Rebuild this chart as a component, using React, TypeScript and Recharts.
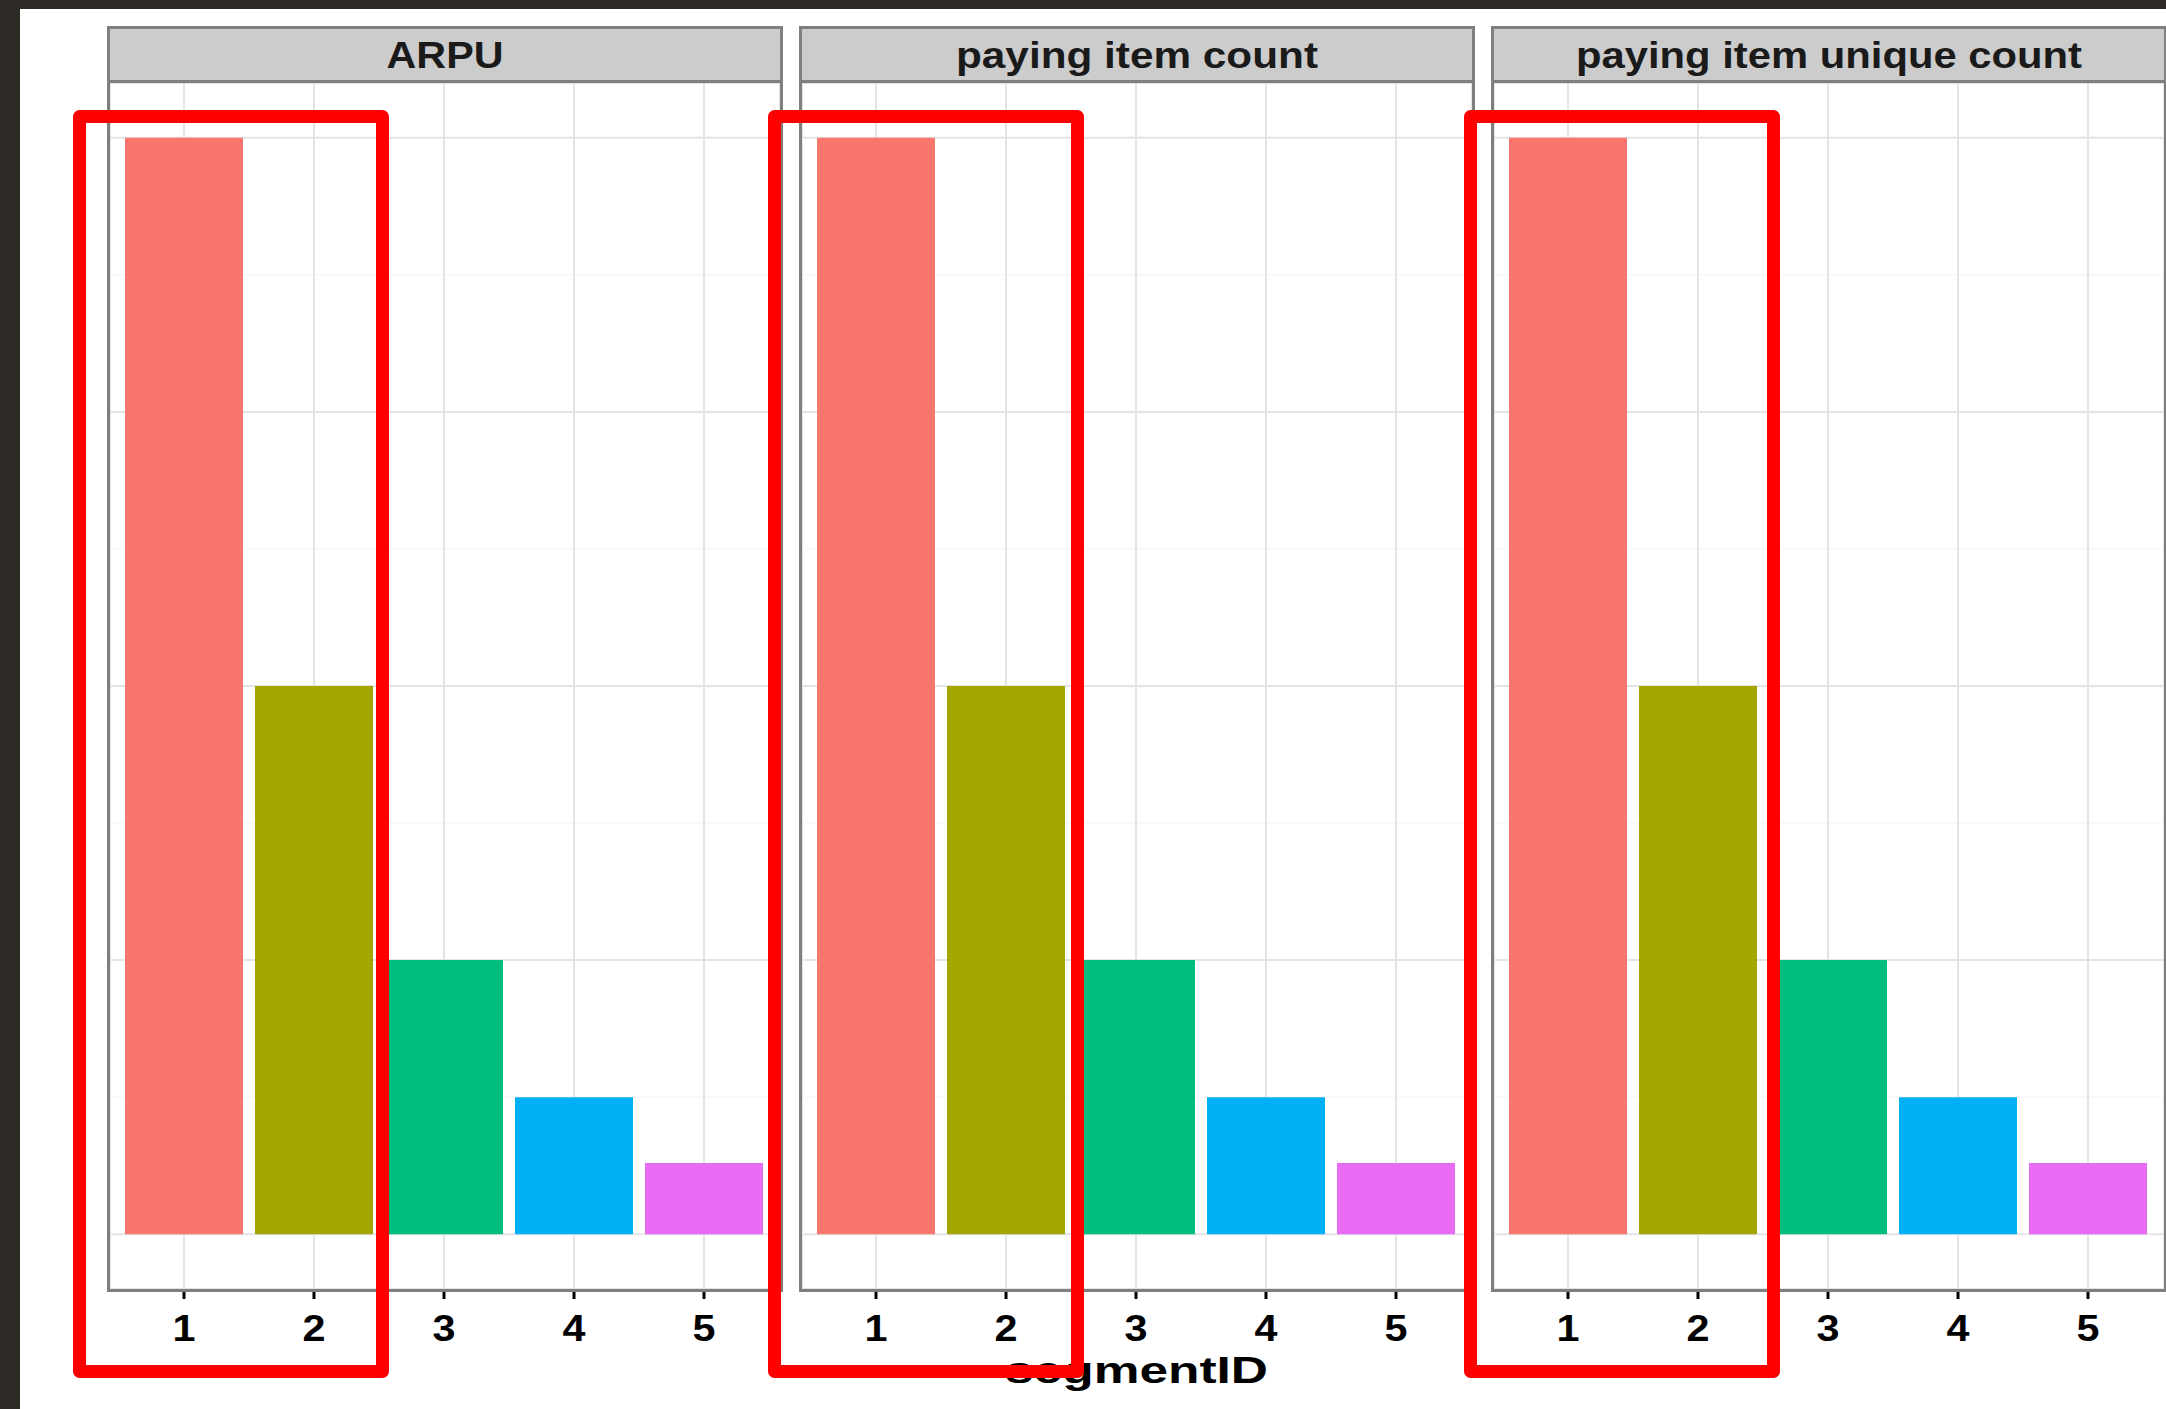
import React from 'react';
import { BarChart, Bar, XAxis, YAxis, CartesianGrid, Cell } from 'recharts';

// ---- data ----
const categories = ['1', '2', '3', '4', '5'];
const arpu = [1, 0.5, 0.25, 0.125, 0.065];
const payingItemCount = [1, 0.5, 0.25, 0.125, 0.065];
const payingItemUniqueCount = [1, 0.5, 0.25, 0.125, 0.065];
const facetTitles = ['ARPU', 'paying item count', 'paying item unique count'];
const barColors = ['#F8766D', '#A3A500', '#00BF7D', '#00B0F6', '#E76BF3'];
const yMajorTicks = [0, 0.25, 0.5, 0.75, 1];
const yMinorTicks = [0.125, 0.375, 0.625, 0.875];
const xTitle = 'segmentID';

const seriesList = [arpu, payingItemCount, payingItemUniqueCount];

// ---- layout ----
const W = 2166;
const H = 1409;
const FONT = '"Liberation Sans", Arial, Helvetica, sans-serif';
const PANEL_LEFTS = [107, 799, 1491];
const PANEL_OUTER_W = 676;
const BORDER = 3;
const INNER_W = PANEL_OUTER_W - 2 * BORDER; // 670
const STRIP_TOP = 26;
const PANEL_TOP = 80; // shared border strip/panel
const PANEL_BOTTOM = 1292;
const INNER_TOP = PANEL_TOP + BORDER; // 83
const INNER_H = PANEL_BOTTOM - BORDER - INNER_TOP; // 1206
const YAXIS_W = 30;
const XAXIS_H = 90;
const TICK_BASELINE = 1341 - INNER_TOP;
const STRIP_TEXT_LEN = [117, 362, 506];
const RED_LEFTS = [73, 768, 1464];
const RED_TOP = 110;
const RED_BOTTOM = 1378;
const RED_W = 316;
const RED_STROKE = 13;
const Y_DOMAIN = [-0.05, 1.05];

const XTick = (props: any) => {
  const { x, payload } = props;
  return (
    <text
      x={x}
      y={TICK_BASELINE}
      textAnchor="middle"
      fontSize={36}
      fontWeight="bold"
      fontFamily={FONT}
      fill="#000"
      textLength={23}
      lengthAdjust="spacingAndGlyphs"
    >
      {payload.value}
    </text>
  );
};

function Panel({ index }: { index: number }) {
  const series = seriesList[index];
  const data = categories.map((c, i) => ({ segment: c, value: series[i] }));
  const left = PANEL_LEFTS[index] + BORDER - YAXIS_W;
  return (
    <div style={{ position: 'absolute', left, top: INNER_TOP }}>
      <BarChart
        width={YAXIS_W + INNER_W}
        height={INNER_H + XAXIS_H}
        data={data}
        margin={{ top: 0, right: 0, bottom: 0, left: 0 }}
        barCategoryGap={6}
      >
        <CartesianGrid
          yAxisId="minor"
          vertical={false}
          stroke="#f3f3f3"
          strokeWidth={1}
        />
        <CartesianGrid yAxisId="major" stroke="#e4e4e4" strokeWidth={2} />
        <XAxis
          dataKey="segment"
          height={XAXIS_H}
          padding={{ left: 9, right: 11 }}
          axisLine={false}
          tickLine={{ stroke: '#000', strokeWidth: 3 }}
          tickSize={10}
          tick={<XTick />}
          interval={0}
        />
        <YAxis
          type="number"
          width={YAXIS_W}
          domain={Y_DOMAIN}
          ticks={yMajorTicks}
          interval={0}
          allowDataOverflow
          axisLine={false}
          tick={false}
          tickLine={index === 0 ? { stroke: '#000', strokeWidth: 2 } : false}
          tickSize={6}
        />
        <YAxis
          yAxisId="minor"
          type="number"
          hide
          domain={Y_DOMAIN}
          ticks={yMinorTicks}
          interval={0}
          allowDataOverflow
        />
        <YAxis
          yAxisId="major"
          type="number"
          hide
          domain={Y_DOMAIN}
          ticks={yMajorTicks}
          interval={0}
          allowDataOverflow
        />
        <Bar dataKey="value" isAnimationActive={false}>
          {data.map((d, i) => (
            <Cell key={d.segment} fill={barColors[i]} />
          ))}
        </Bar>
      </BarChart>
    </div>
  );
}

export default function App() {
  return (
    <div
      style={{
        position: 'absolute',
        left: 0,
        top: 0,
        width: W,
        height: H,
        background: '#ffffff',
        overflow: 'hidden',
      }}
    >
      {[0, 1, 2].map((i) => (
        <Panel key={i} index={i} />
      ))}
      <svg
        width={W}
        height={H}
        style={{ position: 'absolute', left: 0, top: 0, pointerEvents: 'none' }}
      >
        {/* dark frame */}
        <rect x={0} y={0} width={W} height={9} fill="#2d2924" />
        <rect x={0} y={0} width={20} height={H} fill="#2d2924" />
        {PANEL_LEFTS.map((L, i) => (
          <g key={i}>
            <rect
              x={L + 1.5}
              y={PANEL_TOP + 1.5}
              width={PANEL_OUTER_W - 3}
              height={PANEL_BOTTOM - PANEL_TOP - 3}
              fill="none"
              stroke="#7f7f7f"
              strokeWidth={3}
            />
            <rect
              x={L + 1.5}
              y={STRIP_TOP + 1.5}
              width={PANEL_OUTER_W - 3}
              height={PANEL_TOP + BORDER - STRIP_TOP - 3}
              fill="#cccccc"
              stroke="#7f7f7f"
              strokeWidth={3}
            />
            <text
              x={L + PANEL_OUTER_W / 2}
              y={68}
              textAnchor="middle"
              fontSize={36}
              fontWeight="bold"
              fontFamily={FONT}
              fill="#1a1a1a"
              textLength={STRIP_TEXT_LEN[i]}
              lengthAdjust="spacingAndGlyphs"
            >
              {facetTitles[i]}
            </text>
          </g>
        ))}
        <text
          x={1136.5}
          y={1383}
          textAnchor="middle"
          fontSize={36}
          fontWeight="bold"
          fontFamily={FONT}
          fill="#000"
          textLength={263}
          lengthAdjust="spacingAndGlyphs"
        >
          {xTitle}
        </text>
        {RED_LEFTS.map((rx, i) => (
          <rect
            key={i}
            x={rx + RED_STROKE / 2}
            y={RED_TOP + RED_STROKE / 2}
            width={RED_W - RED_STROKE}
            height={RED_BOTTOM - RED_TOP - RED_STROKE}
            fill="none"
            stroke="#ff0000"
            strokeWidth={RED_STROKE}
            strokeLinejoin="round"
          />
        ))}
      </svg>
    </div>
  );
}
